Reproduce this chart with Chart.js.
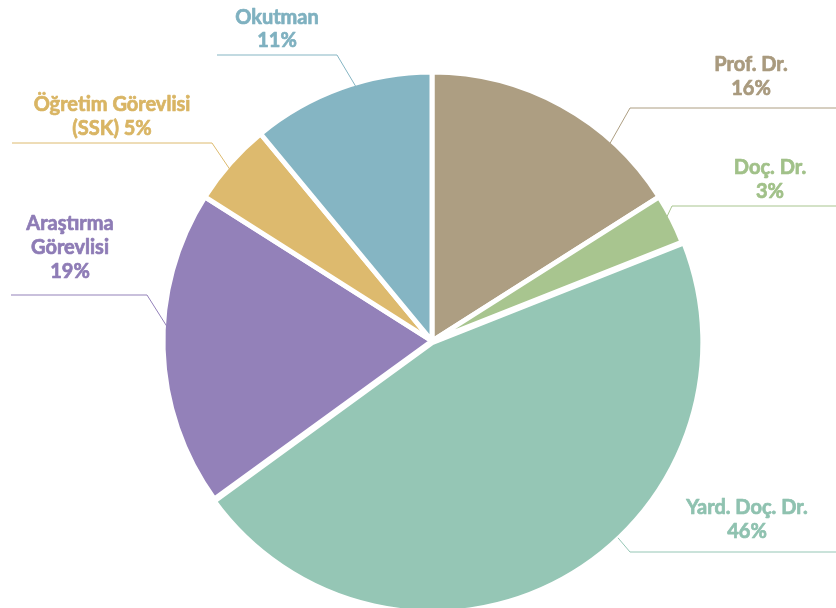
<!DOCTYPE html>
<html>
<head>
<meta charset="utf-8">
<script src="https://cdn.jsdelivr.net/npm/chart.js@4.4.1/dist/chart.umd.min.js"></script>
<style>
  html, body { margin: 0; padding: 0; background: #fff; }
  #wrap { width: 836px; height: 608px; position: relative; }
</style>
</head>
<body>
<div id="wrap"><canvas id="pie"></canvas></div>
<script>
// data, clockwise from 12 o'clock
const categories = ["Prof. Dr.", "Doç. Dr.", "Yard. Doç. Dr.", "Araştırma Görevlisi", "Öğretim Görevlisi (SSK)", "Okutman"];
const values = [16, 3, 46, 19, 5, 11];
// how each label is broken into lines ({p} = percentage)
const labelLines = [
  ["Prof. Dr.", "{p}%"],
  ["Doç. Dr.", "{p}%"],
  ["Yard. Doç. Dr.", "{p}%"],
  ["Araştırma", "Görevlisi", "{p}%"],
  ["Öğretim Görevlisi", "(SSK) {p}%"],
  ["Okutman", "{p}%"],
];

const sliceColors = ["#ad9e82", "#a8c58f", "#95c6b5", "#9381b9", "#ddba6e", "#85b5c3"];
const textColors = ["#a99a7e", "#a1c189", "#8fc2b0", "#8e7cb6", "#d9b564", "#7fb1c0"];

// leader line + label placement (layout only)
const labelLayout = [
  { frac: 0.73, elbow: [630, 108], end: 836, cx: 751, y: [65, 89] },
  { frac: 0.43, elbow: [672, 206], end: 836, cx: 770, y: [168, 192] },
  { frac: 0.41, elbow: [630, 552], end: 836, cx: 747, y: [508, 532] },
  { frac: 0.57, elbow: [147, 295], end: 11, cx: 70, y: [224, 248, 272] },
  { frac: 0.44, elbow: [212, 143], end: 12, cx: 112, y: [105, 129] },
  { frac: 0.58, elbow: [337, 55], end: 217, cx: 277, y: [18, 41] },
];

const calloutPlugin = {
  id: "callouts",
  afterDatasetsDraw(chart) {
    const ctx = chart.ctx;
    const meta = chart.getDatasetMeta(0);
    ctx.save();
    meta.data.forEach(function (arc, i) {
      const lay = labelLayout[i];
      const p = arc.getProps(["x", "y", "startAngle", "endAngle", "outerRadius"], true);
      const a = p.startAngle + (p.endAngle - p.startAngle) * lay.frac;
      const off = arc.options.offset || 0;
      const mid = (p.startAngle + p.endAngle) / 2;
      const cx = p.x + Math.cos(mid) * off;
      const cy = p.y + Math.sin(mid) * off;
      const r = p.outerRadius - 4;
      const ax = cx + Math.cos(a) * r;
      const ay = cy + Math.sin(a) * r;

      ctx.strokeStyle = sliceColors[i];
      ctx.lineWidth = 1;
      ctx.beginPath();
      ctx.moveTo(ax, ay);
      ctx.lineTo(lay.elbow[0], lay.elbow[1]);
      ctx.lineTo(lay.end, lay.elbow[1]);
      ctx.stroke();

      // text, with a thin stroke to thicken the bold face a bit
      ctx.fillStyle = textColors[i];
      ctx.strokeStyle = textColors[i];
      ctx.lineWidth = 0.7;
      ctx.lineJoin = "round";
      ctx.font = "bold 20px Lato";
      ctx.textAlign = "center";
      ctx.textBaseline = "middle";
      labelLines[i].forEach(function (line, j) {
        const txt = line.replace("{p}", values[i]);
        ctx.fillText(txt, lay.cx, lay.y[j]);
        ctx.strokeText(txt, lay.cx, lay.y[j]);
      });
    });
    ctx.restore();
  },
};

new Chart(document.getElementById("pie"), {
  type: "pie",
  data: {
    labels: categories,
    datasets: [
      {
        data: values,
        backgroundColor: sliceColors,
        borderColor: "#ffffff",
        borderWidth: 5,
        radius: 269,
        offset: [0, 0, 6, 0, 0, 0],
      },
    ],
  },
  options: {
    responsive: true,
    maintainAspectRatio: false,
    animation: false,
    layout: { padding: { left: 28, right: 0, top: 74, bottom: 0 } },
    plugins: {
      legend: { display: false },
      tooltip: { enabled: false },
    },
  },
  plugins: [calloutPlugin],
});
</script>
</body>
</html>
